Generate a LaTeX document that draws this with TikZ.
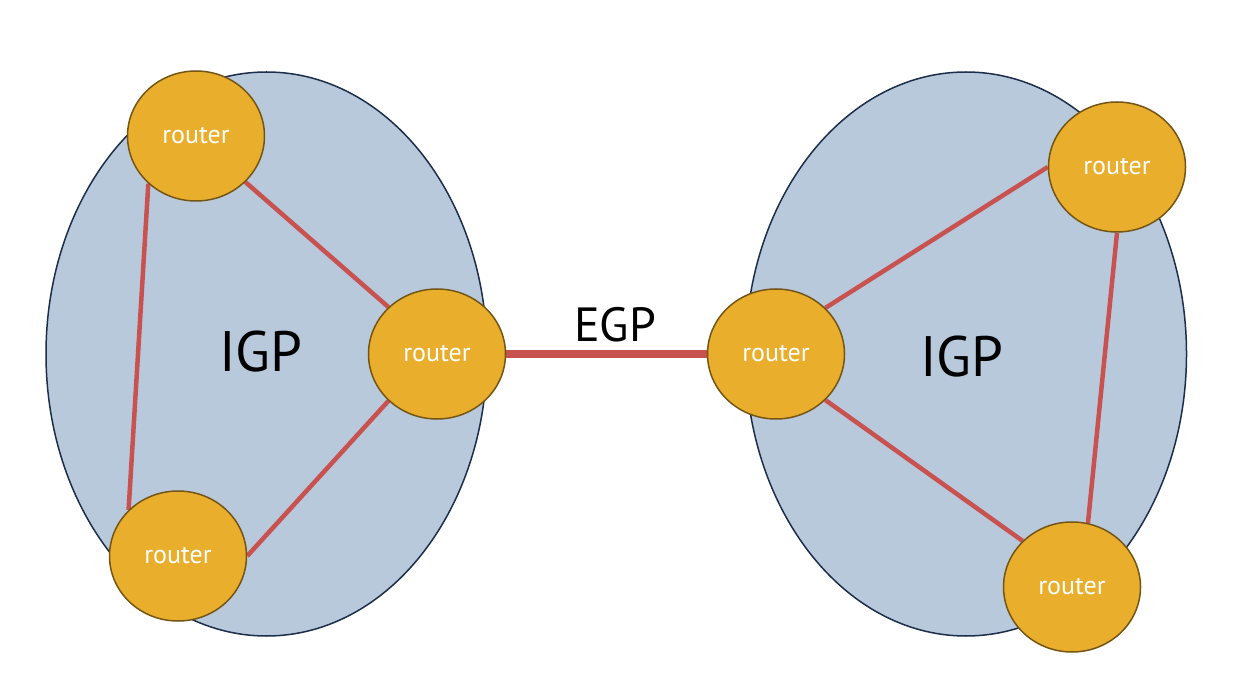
\documentclass[tikz,border=0pt]{standalone}
\usepackage{fontspec}
\setmainfont{PT Sans}
\usetikzlibrary{shapes.geometric}
\pgfdeclarelayer{areas}
\pgfdeclarelayer{edges}
\pgfsetlayers{areas,edges,main}
\definecolor{areafill}{RGB}{185,201,220}
\definecolor{arealine}{RGB}{28,46,74}
\definecolor{routerfill}{RGB}{233,174,43}
\definecolor{routerline}{RGB}{115,85,21}
\definecolor{linkred}{RGB}{200,82,79}
\tikzset{
  area/.style={ellipse, draw=arealine, fill=areafill, line width=1.5pt,
    minimum width=441pt, minimum height=564pt, inner sep=0pt},
  router/.style={ellipse, draw=routerline, fill=routerfill, line width=1.5pt,
    minimum width=137pt, minimum height=130pt, inner sep=0pt,
    text=white, font=\fontsize{26}{30}\selectfont},
  link/.style={draw=linkred, line width=4.5pt},
  egplink/.style={draw=linkred, line width=8pt},
  biglabel/.style={font=\fontsize{57}{60}\selectfont, inner sep=0pt},
  egplabel/.style={font=\fontsize{48}{52}\selectfont, inner sep=0pt}
}
\begin{document}
\begin{tikzpicture}[x=1pt,y=-1pt]
\useasboundingbox (0,0) rectangle (1242,700);
\begin{pgfonlayer}{areas}
  \fill[white] (0,0) rectangle (1242,700);
  \node[area] (leftas) at (266.5,354) {};
  \node[area] (rightas) at (966,354) {};
\end{pgfonlayer}
\node[biglabel] (igpl) at (261,352) {IGP};
\node[biglabel] (igpr) at (962,357) {IGP};
\node[router] (lt) at (196,136) {router};
\node[router] (lr) at (437,354) {router};
\node[router] (lb) at (178,556) {router};
\node[router] (rl) at (776,354) {router};
\node[router] (rt) at (1117,167) {router};
\node[router] (rb) at (1072,587) {router};
\node[egplabel] (egp) at (615,325) {EGP};
\begin{pgfonlayer}{edges}
  \draw[link] (lt.225) -- (lb.137);
  \draw[link] (lt.317) -- (lr.136);
  \draw[link] (lr.224) -- (lb.east);
  \draw[link] (rl.43) -- (rt.west);
  \draw[link] (rl.317) -- (rb.137);
  \draw[link] (rt.south) -- (rb.76);
  \draw[egplink] (lr.east) -- (rl.west);
\end{pgfonlayer}
\end{tikzpicture}
\end{document}
